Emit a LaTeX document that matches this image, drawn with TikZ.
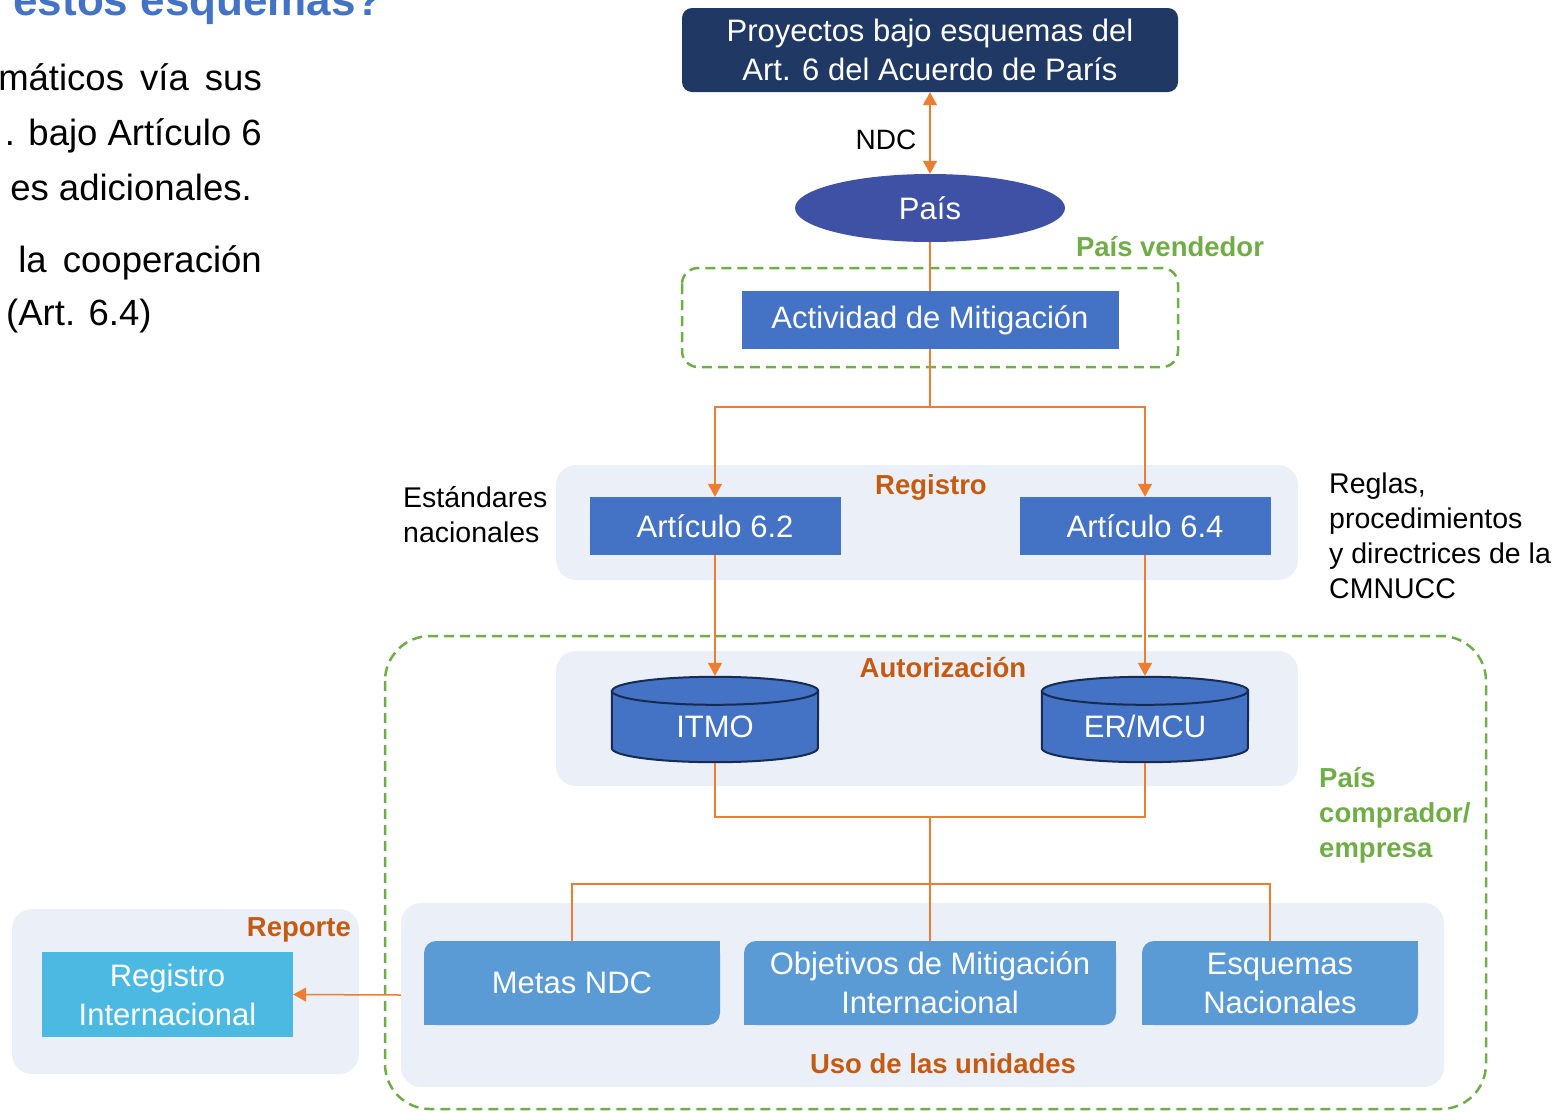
\documentclass[tikz,border=0pt]{standalone}
\usepackage{fontspec}
\setmainfont{Liberation Sans}
\usetikzlibrary{arrows.meta,shapes.geometric,backgrounds}
\definecolor{navy}{HTML}{203864}
\definecolor{paisblue}{HTML}{3F51A5}
\definecolor{midblue}{HTML}{4472C4}
\definecolor{useblue}{HTML}{5B9BD5}
\definecolor{skyblue}{HTML}{4CB9E3}
\definecolor{panelgray}{HTML}{EBEFF8}
\definecolor{lineorange}{HTML}{ED7D31}
\definecolor{titleorange}{HTML}{C55A11}
\definecolor{zonegreen}{HTML}{70AD47}
\definecolor{cylrim}{HTML}{172C51}

\begin{document}
\begin{tikzpicture}[x=1pt,y=-1pt,
    lbl/.style={font=\fontsize{31}{39}\selectfont, text=white, align=center, inner sep=0pt},
    bluebox/.style={lbl, fill=midblue, minimum height=58pt},
    usebox/.style={lbl, fill=useblue, rounded corners=12pt, minimum height=84pt},
    cylbody/.style={lbl, minimum width=206pt, minimum height=71pt},
    panel/.style={fill=panelgray, rounded corners=20pt, inner sep=0pt},
    zone/.style={draw=zonegreen, line width=2.5pt, dash pattern=on 10pt off 6pt},
    conn/.style={draw=lineorange, line width=1.5pt},
    arr/.style={-{Triangle[width=14pt,length=13pt]}},
    phasetitle/.style={font=\fontsize{27.5}{34}\selectfont\bfseries, text=titleorange, inner sep=0pt},
    sidenote/.style={font=\fontsize{28.5}{35}\selectfont, align=left, inner sep=0pt},
    zonelbl/.style={font=\fontsize{27.5}{35}\selectfont\bfseries, text=zonegreen, align=left, inner sep=0pt},
    slidetxt/.style={font=\fontsize{36.5}{55}\selectfont, anchor=base east, inner sep=0pt}]
  \useasboundingbox (0,0) rectangle (1567,1112);

  % slide text cut by the picture edge
  \node[slidetxt, font=\fontsize{44}{50}\selectfont\bfseries, text=midblue] (slidetitle) at (383,15) {estos esquemas?};
  \node[slidetxt] (sl1) at (262,90) {máticos\hspace{6pt} vía\hspace{6pt} sus};
  \node[slidetxt] (sl2) at (262,145) {. bajo Artículo 6};
  \node[slidetxt] (sl3) at (252,200) {es adicionales.};
  \node[slidetxt] (sl4) at (262,272) {la\hspace{6pt} cooperación};
  \node[slidetxt, anchor=base west] (sl5) at (6,325) {(Art. 6.4)};

  % panels, behind everything
  \begin{scope}[on background layer]
    \node[panel, minimum width=742pt, minimum height=115pt] (panelreg) at (927,522.5) {};
    \node[panel, minimum width=742pt, minimum height=135pt] (panelaut) at (927,718.5) {};
    \node[panel, minimum width=1043pt, minimum height=184pt] (paneluso) at (922.5,995) {};
    \node[panel, minimum width=347pt, minimum height=165pt] (panelrep) at (185.5,991.5) {};
  \end{scope}

  \draw[zone, rounded corners=16pt] (682,268) rectangle (1178,367);
  \draw[zone, rounded corners=45pt] (385,636) rectangle (1486,1109);

  % boxes
  \node[lbl, fill=navy, rounded corners=10pt, minimum width=496pt, minimum height=84pt] (proy) at (930,50) {Proyectos bajo esquemas del\\Art. 6 del Acuerdo de París};
  \node[lbl, ellipse, fill=paisblue, minimum width=270pt, minimum height=68pt] (pais) at (930,208) {País};
  \node[bluebox, minimum width=377pt] (activ) at (930,320) {Actividad de Mitigación};
  \node[bluebox, minimum width=251pt] (art62) at (715,526) {Artículo 6.2};
  \node[bluebox, minimum width=251pt] (art64) at (1145,526) {Artículo 6.4};
  \node[cylbody] (itmo) at (715,726.5) {ITMO};
  \node[cylbody] (ermcu) at (1145,726.5) {ER/MCU};
  \begin{scope}[on background layer]
    \foreach \n in {itmo,ermcu} {
      \filldraw[fill=midblue, draw=cylrim, line width=2pt]
        (\n.north west) -- ([yshift=14pt]\n.south west)
        arc[start angle=180, end angle=360, x radius=103pt, y radius=14pt]
        -- (\n.north east)
        arc[start angle=0, end angle=180, x radius=103pt, y radius=14pt] -- cycle;
      \draw[cylrim, line width=2pt] (\n.north west)
        arc[start angle=180, end angle=360, x radius=103pt, y radius=14pt];
    }
  \end{scope}
  \node[usebox, minimum width=296pt] (metas) at (572,983) {Metas NDC};
  \node[usebox, minimum width=372pt] (objet) at (930,983) {Objetivos de Mitigación\\Internacional};
  \node[usebox, minimum width=276pt] (esq) at (1280,983) {Esquemas\\Nacionales};
  \foreach \n in {metas,objet,esq} {
    \fill[useblue] (\n.north east) rectangle ++(-14pt,-14pt);
    \fill[useblue] (\n.south west) rectangle ++(14pt,14pt);
  }
  \node[lbl, fill=skyblue, minimum width=251pt, minimum height=85pt] (regint) at (167.5,994.5) {Registro\\Internacional};

  % labels
  \node[font=\fontsize{28}{34}\selectfont, inner sep=0pt] (ndc) at (886,140) {NDC};
  \node[zonelbl] (vendedor) at (1170,247) {País vendedor};
  \node[zonelbl, anchor=west] (comprador) at (1319,815) {País\\comprador/\\empresa};
  \node[phasetitle] (regtitle) at (931,487) {Registro};
  \node[phasetitle] (auttitle) at (943,668) {Autorización};
  \node[phasetitle] (usotitle) at (943,1064) {Uso de las unidades};
  \node[phasetitle, anchor=east] (reptitle) at (351,930) {Reporte};
  \node[sidenote, anchor=west] (estand) at (403,514.5) {Estándares\\nacionales};
  \node[sidenote, anchor=west] (reglas) at (1329,535.5) {Reglas,\\procedimientos\\y directrices de la\\CMNUCC};

  % connectors
  \draw[conn, {Triangle[width=14pt,length=13pt]}-{Triangle[width=14pt,length=13pt]}] (proy.south) -- (pais.north);
  \draw[conn] (pais.south) -- (activ.north);
  \coordinate (fork1) at (930,407);
  \draw[conn] (activ.south) -- (fork1);
  \draw[conn, arr] (fork1) -| (art62.north);
  \draw[conn, arr] (fork1) -| (art64.north);
  \draw[conn, arr] (art62.south) -- ([yshift=15pt]itmo.north);
  \draw[conn, arr] (art64.south) -- ([yshift=15pt]ermcu.north);
  \coordinate (fork2) at (930,817);
  \draw[conn] ([yshift=-1pt]itmo.south) |- (fork2) -| ([yshift=-1pt]ermcu.south);
  \draw[conn] (fork2) -- (objet.north);
  \coordinate (fork3) at (930,884);
  \draw[conn] (metas.north) |- (fork3) -| ([xshift=-10pt]esq.north);
  \draw[conn, arr] (paneluso.west) -- (regint.east);
\end{tikzpicture}
\end{document}
